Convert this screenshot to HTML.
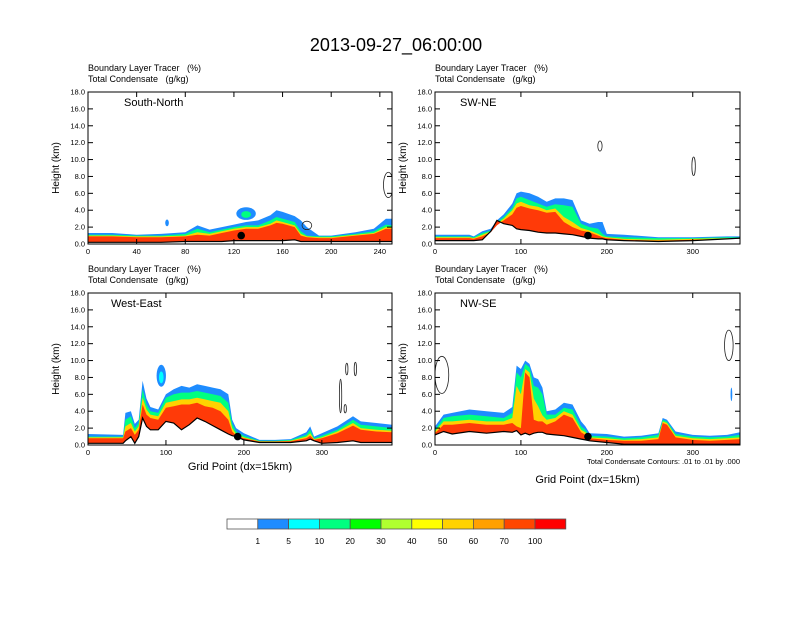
<!DOCTYPE html>
<html><head><meta charset="utf-8"><style>
body{margin:0;background:#fff;}
svg{font-family:"Liberation Sans",sans-serif;}
</style></head><body>
<svg id="c" width="792" height="612" viewBox="0 0 792 612" xmlns="http://www.w3.org/2000/svg">
<text x="396" y="51" font-size="18" text-anchor="middle">2013-09-27_06:00:00</text>
</svg>
<script>
// ---- data ----
const p1Xs=[0,20,40,60,80,90,100,110,120,130,140,150,155,160,170,175,180,190,200,220,235,245,250];
const p1Terrain=[0.2,0.2,0.2,0.2,0.3,0.3,0.3,0.3,0.4,0.4,0.4,0.4,0.4,0.4,0.5,0.3,0.3,0.3,0.3,0.3,0.3,0.3,0.3];
const p1Blue=[1.3,1.3,1.1,1.2,1.4,2.2,1.7,2.0,2.3,2.6,2.8,3.4,4.0,3.8,3.3,2.8,2.0,1.0,1.0,1.4,1.8,3.0,3.0];
const p1Green=[1.1,1.1,1.0,1.0,1.2,1.8,1.4,1.7,2.0,2.2,2.2,2.8,3.2,3.0,2.6,1.5,1.0,0.9,0.9,1.2,1.5,2.3,2.2];
const p1Yellow=[1.0,1.0,0.9,0.9,1.0,1.4,1.2,1.5,1.8,2.0,2.0,2.4,2.8,2.6,2.2,1.2,0.9,0.8,0.8,1.1,1.3,2.0,2.0];
const p1Red=[0.9,0.9,0.8,0.8,0.9,1.1,1.0,1.3,1.6,1.8,1.8,2.2,2.5,2.4,2.0,1.0,0.8,0.7,0.7,1.0,1.2,1.8,1.8];

const p2Xs=[0,40,45,55,65,72,80,90,95,100,110,120,130,140,150,160,170,180,190,195,200,220,260,300,340,355];
const p2Terrain=[0.4,0.4,0.4,0.5,1.5,2.8,2.4,2.2,1.8,1.7,1.6,1.4,1.3,1.3,1.2,1.1,0.9,0.7,0.6,0.6,0.5,0.4,0.3,0.4,0.6,0.7];
const p2Blue=[1.1,1.1,0.9,1.5,1.8,2.8,3.5,4.8,6.0,6.2,6.0,5.6,5.0,5.4,5.4,5.2,2.8,2.4,2.6,2.6,1.2,1.1,0.8,0.8,0.9,0.9];
const p2Green=[0.9,0.9,0.8,1.3,1.6,2.6,3.2,4.3,5.4,5.6,5.2,4.8,4.4,4.7,4.6,4.4,2.4,2.0,1.8,1.2,0.9,0.8,0.7,0.7,0.8,0.8];
const p2Yellow=[0.8,0.8,0.7,1.1,1.5,2.4,3.0,4.0,4.8,5.0,4.6,4.4,4.0,4.2,3.2,2.6,1.9,1.6,1.2,0.9,0.8,0.6,0.5,0.6,0.7,0.7];
const p2Red=[0.7,0.7,0.6,0.9,1.4,2.2,2.8,3.5,4.3,4.5,4.2,4.0,3.7,3.8,2.6,2.0,1.6,1.4,1.0,0.8,0.7,0.5,0.4,0.5,0.6,0.6];

const p3Xs=[0,45,48,55,60,65,70,75,80,90,100,110,120,130,140,150,160,170,180,185,190,200,220,240,260,280,285,290,300,320,340,350,370,390];
const p3Terrain=[0.2,0.2,0.5,1.0,0.2,1.0,3.2,2.2,1.8,1.8,2.8,2.6,1.8,2.4,3.2,2.8,2.3,1.8,1.3,1.1,1.0,0.6,0.3,0.3,0.3,0.5,0.7,0.5,0.2,0.3,0.5,0.3,0.3,0.3];
const p3Blue=[1.3,1.2,3.8,4.0,2.5,3.0,7.6,5.5,4.5,4.2,6.0,6.6,7.0,6.8,7.2,7.0,6.8,6.6,6.0,3.0,2.0,1.4,0.6,0.6,0.7,1.5,2.2,1.0,1.4,2.2,3.4,2.8,2.6,2.4];
const p3Green=[1.0,1.0,3.0,3.4,2.0,2.6,6.6,4.8,4.0,3.8,5.6,6.0,6.2,6.2,6.4,6.2,6.0,5.8,5.0,2.5,1.6,1.1,0.5,0.5,0.6,1.2,1.8,0.8,1.1,1.8,3.0,2.4,2.2,2.0];
const p3Yellow=[0.9,0.9,2.2,2.6,1.6,2.2,5.6,4.2,3.6,3.4,5.0,5.2,5.4,5.4,5.6,5.4,5.2,5.0,4.0,2.0,1.3,0.9,0.45,0.45,0.5,1.0,1.4,0.7,0.9,1.6,2.6,2.0,1.8,1.7];
const p3Red=[0.8,0.8,1.6,2.0,1.2,1.8,4.8,3.6,3.2,3.0,4.4,4.6,4.8,4.8,5.0,4.6,4.4,4.0,3.0,1.6,1.1,0.8,0.4,0.4,0.45,0.8,1.1,0.6,0.8,1.4,2.3,1.8,1.6,1.5];

const p4Xs=[0,10,20,40,60,80,90,95,100,105,110,115,120,125,130,140,150,160,170,175,180,200,220,240,260,265,270,280,300,320,340,355];
const p4Terrain=[1.2,1.6,1.3,1.6,1.4,1.6,1.5,1.7,1.2,1.4,1.2,1.4,1.5,1.5,1.3,1.2,1.1,0.9,0.7,0.6,0.5,0.3,0.1,0.1,0.1,0.1,0.1,0.1,0.1,0.1,0.1,0.1];
const p4Blue=[2.2,3.6,3.8,4.2,4.0,3.8,4.5,9.4,9.0,10.0,9.6,8.0,7.8,6.8,4.0,4.2,5.0,4.8,2.8,2.2,1.4,1.3,1.0,1.1,1.4,3.2,3.0,1.6,1.2,1.1,1.2,1.5];
const p4Green=[1.8,3.2,3.4,3.6,3.4,3.2,3.8,8.6,8.0,9.6,9.2,7.0,6.8,6.0,3.6,3.6,4.4,4.2,2.2,1.8,1.1,1.0,0.8,0.9,1.2,3.0,2.8,1.3,1.0,0.9,1.0,1.2];
const p4Yellow=[1.6,2.8,2.8,3.0,2.8,2.8,3.2,7.0,6.0,9.0,8.6,5.5,4.6,3.5,3.0,3.2,4.0,3.6,1.8,1.5,0.9,0.8,0.6,0.7,0.9,2.8,2.6,1.1,0.8,0.7,0.8,0.9];
const p4Red=[1.4,2.4,2.4,2.6,2.4,2.4,2.6,2.2,2.0,8.6,8.0,3.0,2.8,2.8,2.4,2.8,3.6,3.2,1.5,1.2,0.8,0.6,0.5,0.5,0.7,2.6,2.4,0.9,0.6,0.5,0.6,0.7];

const xTicks1=[0,40,80,120,160,200,240];
const xTicks2=[0,100,200,300];
const yTicks=[0,2,4,6,8,10,12,14,16,18];
const cbLabels=["1","5","10","20","30","40","50","60","70","100"];
const cbColors=["#ffffff","#1e8cff","#00ffff","#00ff80","#00ff00","#b0ff30","#ffff00","#ffd200","#ffa000","#ff4600","#ff0000"];

const svg=document.getElementById('c');
const NS="http://www.w3.org/2000/svg";
function mk(tag,attrs,parent){const e=document.createElementNS(NS,tag);for(const k in attrs)e.setAttribute(k,attrs[k]);(parent||svg).appendChild(e);return e;}

const panels=[
 {name:"south-north",label:"South-North",x0:88,x1:392,y0:92,y1:244,xmax:250,xs:p1Xs,t:p1Terrain,b:p1Blue,g:p1Green,yl:p1Yellow,r:p1Red,ticks:xTicks1,dot:126,lx:124,xlab:0},
 {name:"sw-ne",label:"SW-NE",x0:435,x1:740,y0:92,y1:244,xmax:355,xs:p2Xs,t:p2Terrain,b:p2Blue,g:p2Green,yl:p2Yellow,r:p2Red,ticks:xTicks2,dot:178,lx:460,xlab:0},
 {name:"west-east",label:"West-East",x0:88,x1:392,y0:293,y1:445,xmax:390,xs:p3Xs,t:p3Terrain,b:p3Blue,g:p3Green,yl:p3Yellow,r:p3Red,ticks:xTicks2,dot:192,lx:111,xlab:25},
 {name:"nw-se",label:"NW-SE",x0:435,x1:740,y0:293,y1:445,xmax:355,xs:p4Xs,t:p4Terrain,b:p4Blue,g:p4Green,yl:p4Yellow,r:p4Red,ticks:xTicks2,dot:178,lx:460,xlab:38}
];
const blobs={ "south-north":[[130,3.6,8,0.75,"#1e8cff"],[130,3.5,4,0.4,"#00ff80"],[65,2.5,1.5,0.4,"#1e8cff"]],
 "west-east":[[94,8.2,6,1.3,"#1e8cff"],[94,8.0,3,0.7,"#00ffff"]],
 "nw-se":[[345,6.0,1,0.8,"#1e8cff"]] };
const contours={ "south-north":[[180,2.2,4,0.5],[247,7.0,4,1.5]],
 "sw-ne":[[192,11.6,2.5,0.6],[301,9.2,2,1.1]],
 "west-east":[[324,5.8,1.5,2.0],[332,9.0,1.5,0.7],[343,9.0,1.5,0.8],[330,4.3,1.5,0.5]],
 "nw-se":[[8,8.3,8,2.2],[342,11.8,5,1.8]] };

panels.forEach(p=>{
  const g=mk('g',{});
  
  
  const X=v=>p.x0+(v/p.xmax)*(p.x1-p.x0);
  const Y=v=>p.y1-(v/18)*(p.y1-p.y0);
  const clip=mk('clipPath',{id:'cl-'+p.name},g);
  mk('rect',{x:p.x0,y:p.y0,width:p.x1-p.x0,height:p.y1-p.y0},clip);
  const inner=mk('g',{'clip-path':'url(#cl-'+p.name+')'},g);
  const layers=[[p.b,"#1e8cff"],[p.g,"#00ff80"],[p.yl,"#ffd200"],[p.r,"#ff3a08"]];
  layers.forEach(([arr,col],i)=>{
    let d='';
    p.xs.forEach((x,j)=>{d+=(j?'L':'M')+X(x).toFixed(1)+','+Y(arr[j]).toFixed(1);});
    for(let j=p.xs.length-1;j>=0;j--)d+='L'+X(p.xs[j]).toFixed(1)+','+Y(p.t[j]).toFixed(1);
    const e=mk('path',{d:d+'Z',fill:col},inner);
    
    
  });
  (blobs[p.name]||[]).forEach(b=>{
    const e=mk('ellipse',{cx:X(b[0]),cy:Y(b[1]),rx:X(b[2])-X(0),ry:Y(0)-Y(b[3]),fill:b[4]},inner);
    
    
  });
  (contours[p.name]||[]).forEach(b=>{
    const e=mk('ellipse',{cx:X(b[0]),cy:Y(b[1]),rx:X(b[2])-X(0),ry:Y(0)-Y(b[3]),fill:'none',stroke:'#222','stroke-width':0.8},inner);
    
    
  });
  let td='';
  p.xs.forEach((x,j)=>{td+=(j?'L':'M')+X(x).toFixed(1)+','+Y(p.t[j]).toFixed(1);});
  const tl=mk('path',{d:td,fill:'none',stroke:'#000','stroke-width':1.2},inner);
  
  
  const dot=mk('circle',{cx:X(p.dot),cy:Y(1.0),r:3.8,fill:'#000'},g);
  
  
  const fr=mk('rect',{x:p.x0,y:p.y0,width:p.x1-p.x0,height:p.y1-p.y0,fill:'none',stroke:'#000','stroke-width':1},g);
  
  
  yTicks.forEach(v=>{
    mk('line',{x1:p.x0,x2:p.x0+5,y1:Y(v),y2:Y(v),stroke:'#000'},g);
    mk('line',{x1:p.x1,x2:p.x1-5,y1:Y(v),y2:Y(v),stroke:'#000'},g);
    const t=mk('text',{x:p.x0-3,y:Y(v)+2.5,'font-size':7.5,'text-anchor':'end'},g);
    t.textContent=v.toFixed(1);
    
    
  });
  p.ticks.forEach(v=>{
    if(v>p.xmax)return;
    mk('line',{x1:X(v),x2:X(v),y1:p.y1,y2:p.y1-5,stroke:'#000'},g);
    mk('line',{x1:X(v),x2:X(v),y1:p.y0,y2:p.y0+5,stroke:'#000'},g);
    const t=mk('text',{x:X(v),y:p.y1+10,'font-size':7.5,'text-anchor':'middle'},g);
    t.textContent=v;
    
    
  });
  const lb=mk('text',{x:p.lx,y:p.y0+14,'font-size':11},g);
  lb.textContent=p.label;
  
  
  const h1=mk('text',{x:p.x0,y:p.y0-21,'font-size':9},g);
  h1.textContent='Boundary Layer Tracer   (%)';
  h1.style.whiteSpace='pre';
  
  
  const h2=mk('text',{x:p.x0,y:p.y0-10,'font-size':9},g);
  h2.textContent='Total Condensate   (g/kg)';
  h2.style.whiteSpace='pre';
  
  
  const yl=mk('text',{x:0,y:0,'font-size':10,'text-anchor':'middle',transform:'translate('+(p.x0-29)+','+((p.y0+p.y1)/2)+') rotate(-90)'},g);
  yl.textContent='Height (km)';
  
  
  if(p.xlab){
    const xl=mk('text',{x:(p.x0+p.x1)/2,y:p.y1+p.xlab,'font-size':11,'text-anchor':'middle'},g);
    xl.textContent='Grid Point (dx=15km)';
    
    
  }
});
const ft=mk('text',{x:740,y:464,'font-size':7.5,'text-anchor':'end'});
ft.textContent='Total Condensate Contours: .01 to .01 by .000';



const cb=mk('g',{});


const cbx=227,cbw=30.8;
cbColors.forEach((c,i)=>{
  const r=mk('rect',{x:cbx+i*cbw,y:519,width:cbw,height:10,fill:c,stroke:'#555','stroke-width':0.8},cb);
  
  
});
cbLabels.forEach((l,i)=>{
  const t=mk('text',{x:cbx+(i+1)*cbw,y:544,'font-size':8.5,'text-anchor':'middle'},cb);
  t.textContent=l;
  
  
});
</script>
</body></html>
